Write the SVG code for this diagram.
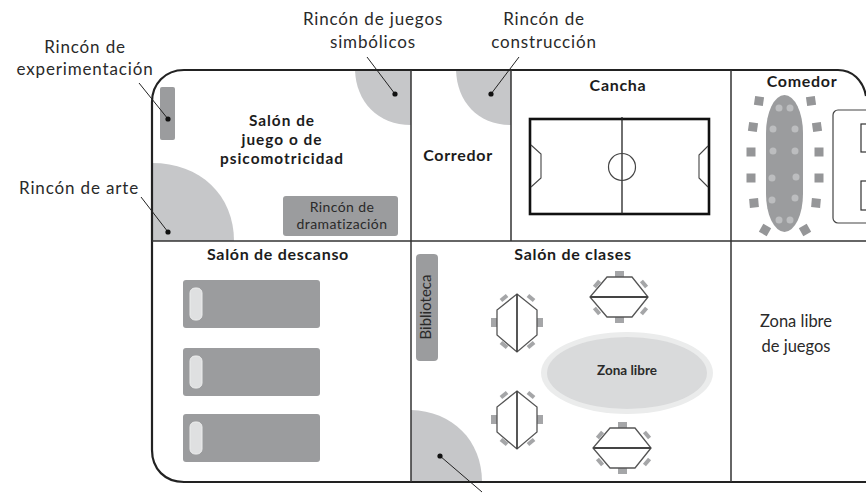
<svg xmlns="http://www.w3.org/2000/svg" width="866" height="493" viewBox="0 0 866 493">
<style>
text{font-family:Lato,"Liberation Sans",sans-serif;text-anchor:middle;fill:#2a2a2a}
.lab{font-size:17px;letter-spacing:.85px}
.room{font-size:16px;font-weight:700;letter-spacing:.7px;fill:#1c1c1c}
.tight{font-size:15.4px;letter-spacing:1px}
.wall{fill:none;stroke:#333;stroke-width:1.5}
.outer{fill:none;stroke:#222;stroke-width:2.2}
.corner{fill:#c6c7c9}
.block{fill:#9b9c9e}
.ptr{fill:none;stroke:#222;stroke-width:1}
.dot{fill:#111}
.pillow{fill:#dfe0e1;stroke:#eceded;stroke-width:1}
.chair{fill:#959698}
.seat{fill:#bcbdbf}
.tchair{fill:#a5a6a8}
.tbl{fill:#fff;stroke:#555;stroke-width:1.3}
.tline{stroke:#444;stroke-width:1.8}
</style>
<defs>
<g id="classtable">
<rect class="tchair" x="-26" y="-5" width="6" height="9"/>
<rect class="tchair" x="20" y="-5" width="6" height="9"/>
<rect class="tchair" x="-17" y="-27" width="8" height="4" transform="rotate(-40 -13 -25)"/>
<rect class="tchair" x="10" y="-27" width="8" height="4" transform="rotate(40 14 -25)"/>
<rect class="tchair" x="-17" y="20" width="8" height="4" transform="rotate(40 -13 22)"/>
<rect class="tchair" x="10" y="20" width="8" height="4" transform="rotate(-40 14 22)"/>
<polygon class="tbl" points="0,-29 20,-13 20,12 0,29 -20,12 -20,-13"/>
<line class="tline" x1="0" y1="-29" x2="0" y2="29"/>
</g>
<g id="bed">
<rect class="block" x="0" y="0" width="137" height="48" rx="3"/>
<rect class="pillow" x="7" y="8" width="12" height="32" rx="5"/>
</g>
</defs>

<g id="corners">
<path class="corner" d="M152 163C200 163 234 195 234 241H152Z"/>
<path class="corner" d="M355 70C356 102 378 125 411 125V70Z"/>
<path class="corner" d="M456 70C457 102 478 125 511 125V70Z"/>
<path class="corner" d="M411 410C452 411 482 440 482 482H411Z"/>
</g>

<g id="walls">
<path class="outer" d="M866 96C863 80 852 70 838 70H184C165 70 152 84 152 102V450C152 469 165 482 184 482H866"/>
<line class="wall" x1="152" y1="241" x2="866" y2="241"/>
<line class="wall" x1="411" y1="70" x2="411" y2="482"/>
<line class="wall" x1="511" y1="70" x2="511" y2="241"/>
<line class="wall" x1="731" y1="70" x2="731" y2="482"/>
</g>

<g id="rincon-experimentacion">
<rect class="block" x="160" y="87" width="15" height="53" rx="2"/>
<text class="lab" x="85" y="53">Rincón de</text>
<text class="lab" x="85" y="75">experimentación</text>
</g>
<g id="rincon-arte"><text class="lab" x="79" y="194">Rincón de arte</text></g>
<g id="rincon-simbolicos">
<text class="lab" x="373" y="25">Rincón de juegos</text>
<text class="lab" x="373" y="48">simbólicos</text>
</g>
<g id="rincon-construccion">
<text class="lab" x="544" y="25">Rincón de</text>
<text class="lab" x="544" y="48">construcción</text>
</g>
<g id="salon-juego">
<text class="room tight" x="282" y="126">Salón de</text>
<text class="room tight" x="282" y="145">juego o de</text>
<text class="room tight" x="282" y="164">psicomotricidad</text>
</g>
<g id="rincon-dramatizacion">
<rect class="block" x="283" y="196" width="115" height="40" rx="3"/>
<text x="342" y="212" font-size="14" letter-spacing=".4">Rincón de</text>
<text x="342" y="229" font-size="14" letter-spacing=".4">dramatización</text>
</g>
<g id="corredor"><text class="room" x="458" y="161">Corredor</text></g>
<g id="cancha">
<text class="room" x="618" y="91">Cancha</text>
<rect x="530" y="119" width="179" height="95" fill="none" stroke="#111" stroke-width="2.6"/>
<line x1="622" y1="117" x2="622" y2="214" stroke="#222" stroke-width="1.3"/>
<circle cx="622" cy="167" r="13.5" fill="none" stroke="#444" stroke-width="1.2"/>
<polyline points="531,145 541,154 541,178 531,187" fill="none" stroke="#444" stroke-width="1.1"/>
<polyline points="708,146 699,155 699,178 708,187" fill="none" stroke="#444" stroke-width="1.1"/>
</g>
<g id="comedor">
<text class="room" x="802" y="87">Comedor</text>
<rect class="block" x="766" y="95" width="37" height="137" rx="18.5" ry="38"/>
<g class="seat">
<circle cx="779" cy="108" r="3.5"/><circle cx="790" cy="108" r="3.5"/>
<circle cx="773" cy="129" r="3.5"/><circle cx="795" cy="129" r="3.5"/>
<circle cx="773" cy="151" r="3.5"/><circle cx="795" cy="151" r="3.5"/>
<circle cx="772" cy="178" r="3.5"/><circle cx="796" cy="177" r="3.5"/>
<circle cx="772" cy="200" r="3.5"/><circle cx="795" cy="198" r="3.5"/>
<circle cx="779" cy="220" r="3.5"/><circle cx="790" cy="220" r="3.5"/>
</g>
<g class="chair">
<rect x="754.5" y="96.5" width="9" height="9" transform="rotate(8 759 101)"/>
<rect x="806.5" y="96.5" width="9" height="9" transform="rotate(-8 811 101)"/>
<rect x="748.5" y="122.5" width="9" height="9" transform="rotate(8 753 127)"/>
<rect x="812.5" y="122.5" width="9" height="9" transform="rotate(-8 817 127)"/>
<rect x="746.5" y="147.5" width="9" height="9"/>
<rect x="814.5" y="147.5" width="9" height="9"/>
<rect x="746.5" y="173.5" width="9" height="9"/>
<rect x="814.5" y="173.5" width="9" height="9"/>
<rect x="749.5" y="198.5" width="9" height="9" transform="rotate(-5 754 203)"/>
<rect x="811.5" y="198.5" width="9" height="9" transform="rotate(5 816 203)"/>
<rect x="760.5" y="225.5" width="9" height="9" transform="rotate(30 765 230)"/>
<rect x="800.5" y="225.5" width="9" height="9" transform="rotate(-30 805 230)"/>
</g>
<rect x="833" y="110" width="50" height="113" rx="5" fill="#fff" stroke="#444" stroke-width="1.2"/>
<rect x="861" y="124" width="20" height="28" fill="#fff" stroke="#333" stroke-width="1.2"/>
<rect x="861" y="181" width="20" height="29" fill="#fff" stroke="#333" stroke-width="1.2"/>
</g>
<g id="salon-descanso">
<text class="room" x="278" y="260">Salón de descanso</text>
<use href="#bed" x="183" y="280"/>
<use href="#bed" x="183" y="348"/>
<use href="#bed" x="183" y="414"/>
</g>
<g id="salon-clases">
<text class="room" x="573" y="260">Salón de clases</text>
<rect class="block" x="416" y="254" width="22" height="107" rx="4"/>
<text x="427" y="307" font-size="15" dominant-baseline="middle" transform="rotate(-90 427 307)" fill="#222">Biblioteca</text>
<use href="#classtable" transform="translate(517 323)"/>
<use href="#classtable" transform="translate(517 420)"/>
<use href="#classtable" transform="translate(619 297) rotate(90)"/>
<use href="#classtable" transform="translate(622 448) rotate(90)"/>
<ellipse cx="627" cy="373" rx="86" ry="41" fill="#ebecec"/>
<ellipse cx="627" cy="373" rx="80" ry="36" fill="#d9dadb"/>
<text x="627" y="375" font-size="13.5" font-weight="700" fill="#222">Zona libre</text>
</g>
<g id="zona-libre-juegos">
<text x="796" y="327" font-size="16.5">Zona libre</text>
<text x="796" y="352" font-size="16.5">de juegos</text>
</g>
<g id="connectors">
<line class="ptr" x1="139" y1="83" x2="168" y2="119"/>
<line class="ptr" x1="141" y1="197" x2="168" y2="232"/>
<line class="ptr" x1="367" y1="57" x2="395" y2="94"/>
<line class="ptr" x1="519" y1="57" x2="491" y2="94"/>
<line class="ptr" x1="440" y1="456" x2="482" y2="492"/>
<circle class="dot" cx="168" cy="119" r="2.6"/>
<circle class="dot" cx="168" cy="232" r="2.6"/>
<circle class="dot" cx="395" cy="94" r="2.6"/>
<circle class="dot" cx="491" cy="94" r="2.6"/>
<circle class="dot" cx="440" cy="456" r="2.6"/>
</g>
</svg>
